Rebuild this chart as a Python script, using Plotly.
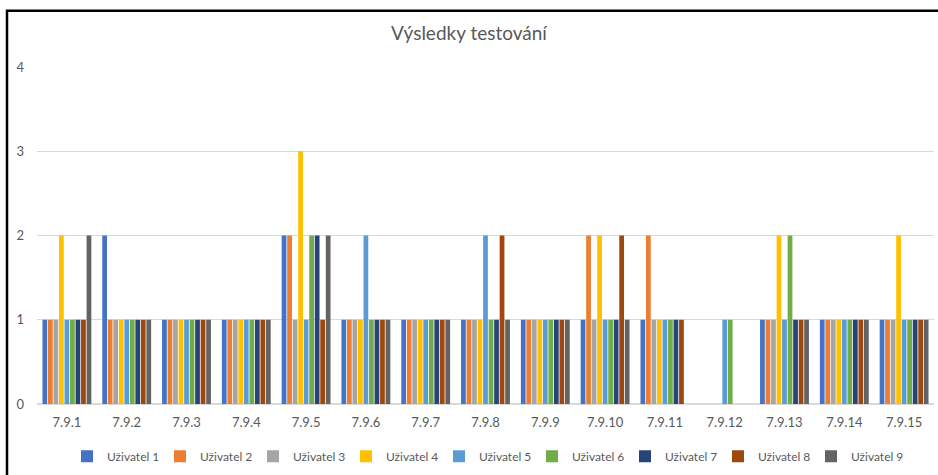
import plotly.graph_objects as go

categories = ["7.9.1", "7.9.2", "7.9.3", "7.9.4", "7.9.5", "7.9.6", "7.9.7", "7.9.8",
              "7.9.9", "7.9.10", "7.9.11", "7.9.12", "7.9.13", "7.9.14", "7.9.15"]
series_names = ["Uživatel 1", "Uživatel 2", "Uživatel 3", "Uživatel 4", "Uživatel 5",
                "Uživatel 6", "Uživatel 7", "Uživatel 8", "Uživatel 9"]
u1 = [1, 2, 1, 1, 2, 1, 1, 1, 1, 1, 1, 0, 1, 1, 1]
u2 = [1, 1, 1, 1, 2, 1, 1, 1, 1, 2, 2, 0, 1, 1, 1]
u3 = [1, 1, 1, 1, 1, 1, 1, 1, 1, 1, 1, 0, 1, 1, 1]
u4 = [2, 1, 1, 1, 3, 1, 1, 1, 1, 2, 1, 0, 2, 1, 2]
u5 = [1, 1, 1, 1, 1, 2, 1, 2, 1, 1, 1, 1, 1, 1, 1]
u6 = [1, 1, 1, 1, 2, 1, 1, 1, 1, 1, 1, 1, 2, 1, 1]
u7 = [1, 1, 1, 1, 2, 1, 1, 1, 1, 1, 1, 0, 1, 1, 1]
u8 = [1, 1, 1, 1, 1, 1, 1, 2, 1, 2, 1, 0, 1, 1, 1]
u9 = [2, 1, 1, 1, 2, 1, 1, 1, 1, 1, 0, 0, 1, 1, 1]
series_values = [u1, u2, u3, u4, u5, u6, u7, u8, u9]
colors = ["#4472C4", "#ED7D31", "#A5A5A5", "#FFC000", "#5B9BD5",
          "#70AD47", "#264478", "#9E480E", "#636363"]
y_ticks = [0, 1, 2, 3, 4]

font_family = "Lato, 'Open Sans', sans-serif"
txt = "#595959"

fig = go.Figure()
for name, vals, col in zip(series_names, series_values, colors):
    fig.add_trace(go.Bar(x=categories, y=vals, name=name,
                         marker=dict(color=col, line=dict(width=0))))

bx0 = (7 - 37) / 897
by1 = (408 - 10) / 341
fig.update_layout(
    width=938, height=475,
    margin=dict(l=37, r=4, t=67, b=67),
    paper_bgcolor="white", plot_bgcolor="white",
    barmode="group", bargap=0.17, bargroupgap=0.14,
    font=dict(family=font_family, size=13, color=txt),
    title=dict(text="Výsledky testování", x=0.5, xanchor="center",
               y=1 - 33 / 475, yanchor="middle",
               font=dict(family=font_family, size=19, color=txt)),
    legend=dict(orientation="h", x=0.5, xanchor="center", y=-0.155, yanchor="middle",
                font=dict(family=font_family, size=12, color=txt),
                itemwidth=30, entrywidth=48, entrywidthmode="pixels",
                tracegroupgap=0, bgcolor="rgba(0,0,0,0)"),
    showlegend=True,
    xaxis=dict(showgrid=False, showline=True, linecolor="#d9d9d9", linewidth=1,
               ticks="", tickfont=dict(family=font_family, size=13, color=txt),
               ticklabelstandoff=6),
    yaxis=dict(range=[0, 4], tickvals=y_ticks, showgrid=True, gridcolor="#d9d9d9",
               gridwidth=1, zeroline=True, zerolinecolor="#d9d9d9", showline=False,
               ticks="", tickfont=dict(family=font_family, size=13, color=txt),
               ticklabelstandoff=12),
    shapes=[dict(type="path", xref="paper", yref="paper",
                 path=f"M {bx0},-0.3 L {bx0},{by1} L 1.02,{by1}",
                 line=dict(color="black", width=2.5), layer="above")],
)

fig.write_html("out.html", config={"displayModeBar": False},
               post_script="document.body.style.margin='0';document.body.style.overflow='hidden';")
